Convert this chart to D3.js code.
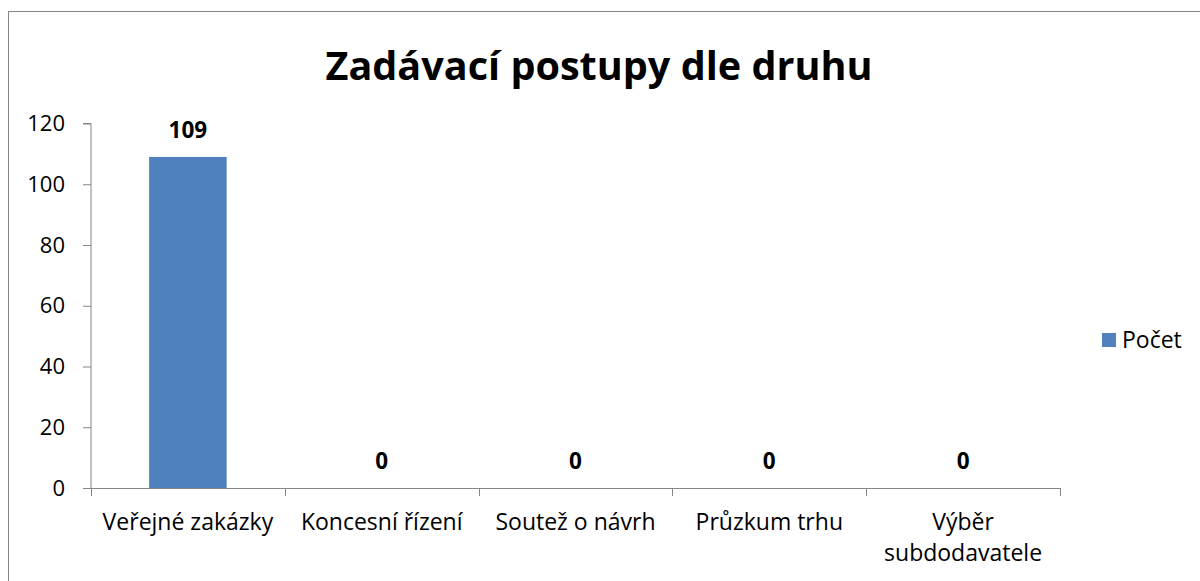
<!DOCTYPE html>
<html><head><meta charset="utf-8">
<script src="https://cdn.jsdelivr.net/npm/d3@7"></script>
<style>body{margin:0;background:#fff}svg{display:block}text{font-family:"Open Sans",sans-serif}</style>
</head><body><svg id="c" width="1200" height="581"></svg>
<script>
const title = "Zadávací postupy dle druhu";
const categories = ["Veřejné zakázky", "Koncesní řízení", "Soutež o návrh", "Průzkum trhu", "Výběr subdodavatele"];
const values = [109, 0, 0, 0, 0];
const seriesName = "Počet";
const yTicks = [0, 20, 40, 60, 80, 100, 120];

(function(){
const svg = d3.select("#c");
const color = "#4F81BD", axisColor = "#868686";
const fs = 23;
svg.append("rect").attr("x", 8.5).attr("y", 11.5).attr("width", 1200).attr("height", 600)
  .attr("fill", "#fff").attr("stroke", axisColor).attr("stroke-width", 1);

svg.append("text").attr("x", 599).attr("y", 80).attr("text-anchor", "middle")
  .attr("font-weight", "bold").attr("font-size", 39.6).attr("fill", "#000").text(title);

const pl = 91, pr = 1060, pt = 123.5, pb = 488;
const x = d3.scaleBand().domain(categories).range([pl, pr]).paddingInner(0.6).paddingOuter(0.3);
const xb = d3.scaleBand().domain(categories).range([pl, pr]);
const y = d3.scaleLinear().domain([0, 120]).range([pb, pt]);

const ya = svg.append("g").attr("transform", `translate(${pl},0)`)
  .call(d3.axisLeft(y).tickValues(yTicks).tickSize(8).tickPadding(18));
ya.select(".domain").attr("stroke", axisColor).attr("d", `M-8,${y(120)}H0V${pb}`);
ya.selectAll(".tick line").attr("stroke", axisColor);
ya.selectAll("text").attr("font-size", 22).attr("fill", "#000").attr("font-family", "Open Sans");

svg.selectAll(".bar").data(values).join("rect")
  .attr("x", (d, i) => x(categories[i])).attr("width", x.bandwidth())
  .attr("y", d => y(d)).attr("height", d => pb - y(d)).attr("fill", color);

const xa = svg.append("g");
xa.append("line").attr("x1", pl).attr("x2", pr).attr("y1", pb + 0.5).attr("y2", pb + 0.5).attr("stroke", axisColor);
const bounds = [pl, ...categories.map(c => xb(c) + xb.bandwidth())];
xa.selectAll(".xt").data(bounds).join("line").attr("x1", d => Math.round(d) + 0.5).attr("x2", d => Math.round(d) + 0.5)
  .attr("y1", pb).attr("y2", pb + 8).attr("stroke", axisColor);

categories.forEach((c, i) => {
  const cx = xb(c) + xb.bandwidth() / 2;
  const t = svg.append("text").attr("text-anchor", "middle").attr("font-size", fs).attr("fill", "#000");
  const words = c.split(" ");
  t.text(c);
  if (t.node().getComputedTextLength() > 192) {
    t.text(null);
    t.append("tspan").attr("x", cx).attr("y", 530).text(words[0]);
    t.append("tspan").attr("x", cx).attr("y", 561).text(words.slice(1).join(" "));
  } else {
    t.attr("x", cx).attr("y", 530);
  }
});

svg.selectAll(".lbl").data(values).join("text")
  .attr("x", (d, i) => xb(categories[i]) + xb.bandwidth() / 2)
  .attr("y", d => y(d) - 19).attr("text-anchor", "middle")
  .attr("font-weight", "bold").attr("font-size", 22.5).attr("fill", "#000").text(d => d);

svg.append("rect").attr("x", 1102).attr("y", 333).attr("width", 14).attr("height", 14).attr("fill", color);
svg.append("text").attr("x", 1122).attr("y", 348).attr("font-size", fs).attr("fill", "#000").text(seriesName);
})();
</script></body></html>
